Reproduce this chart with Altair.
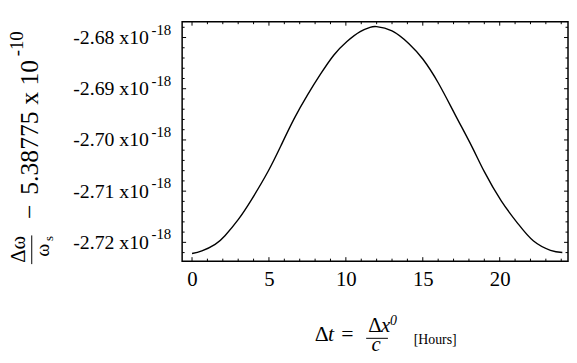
import altair as alt
import pandas as pd

# ---- data ----
hours = [0.0, 0.64, 1.5, 2.14, 3.0, 3.86, 4.93, 5.79, 6.64, 7.5, 8.36, 9.21, 10.07,
         10.93, 11.57, 12.0, 13.0, 14.1, 15.0, 16.0, 17.1, 18.2, 19.0, 20.1, 21.2,
         22.2, 23.3, 24.07]
values = [-2.72218, -2.72168, -2.72039, -2.71870, -2.71556, -2.71169, -2.70622,
          -2.70106, -2.69585, -2.69125, -2.68712, -2.68345, -2.68077, -2.67884,
          -2.67801, -2.67787, -2.67870, -2.68120, -2.68420, -2.68883, -2.69505,
          -2.70135, -2.70620, -2.71190, -2.71640, -2.71975, -2.72155, -2.72199]

x_major = [0, 5, 10, 15, 20]
x_minor = [1, 2, 3, 4, 6, 7, 8, 9, 11, 12, 13, 14, 16, 17, 18, 19, 21, 22, 23, 24]
y_major = [-2.72, -2.71, -2.70, -2.69, -2.68]
y_minor = [-2.722, -2.718, -2.716, -2.714, -2.712, -2.708, -2.706, -2.704, -2.702,
           -2.698, -2.696, -2.694, -2.692, -2.688, -2.686, -2.684, -2.682, -2.678]

y_exp = "-18"
y_title_main = "5.38775 x 10"
y_title_exp = "-10"
y_title_num = "Δω"
x_title_hours = "[Hours]"

W, H = 390, 242
FONT = "Liberation Serif"
xs = alt.Scale(domain=[-0.643, 24.44], nice=False, zero=False)
ys = alt.Scale(domain=[-2.72367, -2.67691], nice=False, zero=False)

xaxis = alt.Axis(values=x_major, title=None, grid=False, ticks=False, tickSize=0, domain=False,
                 labelFont=FONT, labelFontSize=21, labelColor="black", labelPadding=8,
                 labelFlush=False, labelOverlap=False)
yaxis = alt.Axis(values=y_major, title=None, grid=False, ticks=False, tickSize=0, domain=False,
                 labelExpr="'-' + format(abs(datum.value), '.2f') + ' x10'",
                 labelFont=FONT, labelFontSize=20, labelColor="black", labelPadding=34,
                 labelFlush=False, labelOverlap=False)

df = pd.DataFrame({"hour": hours, "val": values})

line = alt.Chart(df).mark_line(color="black", strokeWidth=1.4, interpolate="natural").encode(
    x=alt.X("hour:Q", scale=xs, axis=xaxis),
    y=alt.Y("val:Q", scale=ys, axis=yaxis),
)

def vticks(vals, length, side):
    d = pd.DataFrame({"v": vals})
    if side == "left":
        xa, xb = 0, length
    else:
        xa, xb = W - length, W
    return alt.Chart(d).mark_rule(color="black", strokeWidth=1).encode(
        y=alt.Y("v:Q", scale=ys, axis=yaxis), x=alt.value(xa), x2=alt.value(xb))

def hticks(vals, length, side):
    d = pd.DataFrame({"v": vals})
    if side == "bottom":
        ya, yb = H - length, H
    else:
        ya, yb = 0, length
    return alt.Chart(d).mark_rule(color="black", strokeWidth=1).encode(
        x=alt.X("v:Q", scale=xs, axis=xaxis), y=alt.value(ya), y2=alt.value(yb))

ticks = [
    vticks(y_major, 4, "left"), vticks(y_minor, 2.5, "left"),
    vticks(y_major, 4, "right"), vticks(y_minor, 2.5, "right"),
    hticks(x_major, 4, "bottom"), hticks(x_minor, 2.5, "bottom"),
    hticks(x_major, 4, "top"), hticks(x_minor, 2.5, "top"),
]

exp_layer = alt.Chart(pd.DataFrame({"v": y_major})).mark_text(
    align="left", baseline="middle", font=FONT, fontSize=15, color="black", dy=-8
).encode(y=alt.Y("v:Q", scale=ys, axis=yaxis), x=alt.value(-31), text=alt.value(y_exp))

def txt(s, x, y, size, angle=0, align="left", baseline="alphabetic", style="normal"):
    kw = dict(align=align, baseline=baseline, font=FONT, fontSize=size, color="black",
              fontStyle=style)
    if angle:
        kw["angle"] = angle
    return alt.Chart(pd.DataFrame({"t": [s]})).mark_text(**kw).encode(
        x=alt.value(x), y=alt.value(y), text="t:N")

def hrule(x1, x2, y):
    return alt.Chart(pd.DataFrame({"a": [0]})).mark_rule(color="black", strokeWidth=1).encode(
        x=alt.value(x1), x2=alt.value(x2), y=alt.value(y))

def vrule(x, y1, y2):
    return alt.Chart(pd.DataFrame({"a": [0]})).mark_rule(color="black", strokeWidth=1).encode(
        x=alt.value(x), y=alt.value(y1), y2=alt.value(y2))

# rotated y title pieces (plot origin at page 184,20)
ytitle = [
    txt(y_title_main, -146, 175, 26, angle=270),
    txt(y_title_exp, -161, 35, 19, angle=270),
    txt("−", -145.5, 192, 26, angle=270, align="center"),
    txt(y_title_num, -159, 230, 21, angle=270, align="center"),
    vrule(-152, 216, 245),
    txt("ω", -135, 231, 20, angle=270, align="center"),
    txt("s", -131, 219, 13, angle=270, align="center"),
]

# x title pieces
xtitle = [
    txt("Δ", 134, 323, 22),
    txt("t", 147.5, 323, 22, style="italic"),
    txt("=", 167, 323, 22, align="center"),
    txt("Δ", 188, 314, 21),
    txt("x", 201, 314, 21, style="italic"),
    txt("0", 210, 307, 14, style="italic"),
    hrule(186, 208, 320),
    txt("c", 196, 333, 21, align="center", style="italic"),
    txt(x_title_hours, 234, 326, 14),
]

chart = alt.layer(line, *ticks, exp_layer, *ytitle, *xtitle).properties(
    width=W, height=H,
    autosize=alt.AutoSizeParams(type="none"),
    padding={"left": 176, "top": 12, "right": 1, "bottom": 92},
).configure(background="white").configure_view(stroke="black", strokeWidth=1.5)

chart.save("out.html", embed_options={"renderer": "svg", "actions": False})
